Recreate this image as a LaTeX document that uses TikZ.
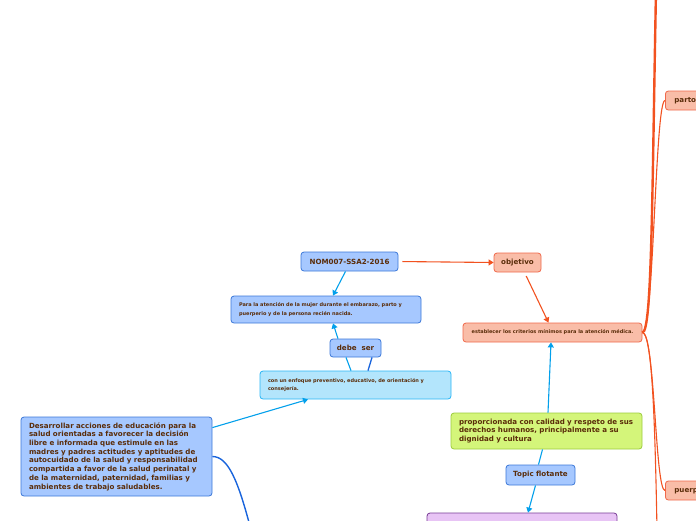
\documentclass[tikz,border=0pt]{standalone}
\usepackage{fontspec}
\setmainfont{DejaVu Sans}
\usetikzlibrary{arrows.meta, positioning, calc}

\definecolor{txtbrown}{RGB}{90,45,10}
\definecolor{bluefill}{RGB}{166,200,255}
\definecolor{blueline}{RGB}{59,120,216}
\definecolor{salmonfill}{RGB}{249,189,168}
\definecolor{salmonline}{RGB}{240,105,75}
\definecolor{orangeline}{RGB}{242,82,32}
\definecolor{cyanfill}{RGB}{179,229,252}
\definecolor{cyanline}{RGB}{41,182,246}
\definecolor{linkblue}{RGB}{3,160,235}
\definecolor{darkblue}{RGB}{25,100,220}
\definecolor{greenfill}{RGB}{212,245,122}
\definecolor{greenline}{RGB}{156,204,60}
\definecolor{purplefill}{RGB}{232,196,245}
\definecolor{purpleline}{RGB}{120,60,150}

\begin{document}
\begin{tikzpicture}[
  x=1pt, y=-1pt,
  box/.style={draw, rounded corners=3pt, line width=0.8pt, text=txtbrown, inner ysep=0pt,
    font=\bfseries\fontsize{7.1}{8.7}\selectfont},
  tiny/.style={font=\bfseries\fontsize{5}{8.6}\selectfont},
  bluebox/.style={box, fill=bluefill, draw=blueline},
  salmonbox/.style={box, fill=salmonfill, draw=salmonline},
  cyanbox/.style={box, fill=cyanfill, draw=cyanline},
  greenbox/.style={box, fill=greenfill, draw=greenline},
  purplebox/.style={box, fill=purplefill, draw=purpleline},
  para/.style={text width=175pt, inner xsep=8pt, align=left},
  link/.style={line width=1.1pt, draw=linkblue, -{Triangle[length=5pt,width=6pt]}},
  olink/.style={line width=1.1pt, draw=orangeline},
]
\useasboundingbox (0,0) rectangle (696,520);

\node[bluebox, minimum width=97pt, minimum height=19pt] (nom) at (349.5,261.5) {NOM007-SSA2-2016};
\node[salmonbox, minimum width=47pt, minimum height=19pt] (obj) at (517.5,262.5) {objetivo};
\node[salmonbox, tiny, minimum width=179pt, minimum height=19pt] (est) at (552.5,332.5)
  {establecer los criterios mínimos para la atención médica.};
\node[bluebox, para, tiny, text width=174pt, minimum height=27pt] (aten) at (326,309.5)
  {Para la atención de la mujer durante el embarazo, parto y\\puerperio y de la persona recién nacida.};
\node[bluebox, minimum width=51pt, minimum height=18pt] (debe) at (355.5,348) {debe\ \ ser};
\node[cyanbox, para, tiny, minimum height=28pt] (enfo) at (355.5,385)
  {con un enfoque preventivo, educativo, de orientación y\\consejería.};
\node[bluebox, para, minimum height=79pt] (desa) at (116.5,456.5)
  {Desarrollar acciones de educación para la\\salud orientadas a favorecer la decisión\\libre e informada que estimule en las\\madres y padres actitudes y aptitudes de\\autocuidado de la salud y responsabilidad\\compartida a favor de la salud perinatal y\\de la maternidad, paternidad, familias y\\ambientes de trabajo saludables.};
\node[greenbox, para, minimum height=36pt] (prop) at (546.5,431)
  {proporcionada con calidad y respeto de sus\\derechos humanos, principalmente a su\\dignidad y cultura};
\node[bluebox, minimum width=69pt, minimum height=20pt] (flot) at (540.5,475) {Topic flotante};
\node[purplebox, minimum width=190pt, minimum height=40pt] (lila) at (522,533) {};
\node[salmonbox, anchor=west, inner xsep=9pt, minimum height=19pt] (parto) at (665,100.5) {parto};
\node[salmonbox, anchor=west, inner xsep=9pt, minimum height=19pt] (puer) at (665,490.5) {puerperio};

\draw[olink, -{Triangle[length=5pt,width=6pt]}, shorten <=4pt] (nom.east) -- (obj.west);
\draw[olink, -{Triangle[length=5pt,width=6pt]}, shorten <=4pt] ([xshift=7pt]obj.south) -- ([xshift=-4pt]est.north);
\draw[olink, line width=2.4pt] (est.east) .. controls (652,332.5) and (652,200) .. (656,-10);
\draw[olink] (est.east) .. controls (654,332.5) and (655,100.5) .. (parto.west);
\draw[olink] (est.east) .. controls (655,332.5) and (655,490.5) .. (puer.west);
\draw[olink] (est.east) .. controls (652,332.5) and (655,420) .. (657,530);

\draw[link] ([xshift=-4pt]nom.south) -- ([xshift=7pt]aten.north);
\draw[link] ([xshift=-17.5pt]debe.north) -- ([xshift=7pt]aten.south);
\draw[line width=1.1pt, draw=linkblue] ([xshift=-9.5pt]debe.south) -- ([xshift=-4.5pt]enfo.north);
\draw[line width=1.3pt, draw=darkblue] ([xshift=16.5pt]debe.south) -- ([xshift=12.5pt]enfo.north);
\draw[link] ([yshift=-11pt]desa.north east) -- ([xshift=-47.5pt]enfo.south);
\draw[draw=darkblue, line width=1.4pt] (desa.east) .. controls (228,456.5) and (238,480) .. (251,530);
\draw[link] ([xshift=1.5pt]prop.north) -- ([xshift=-1.5pt]est.south);
\draw[line width=1.1pt, draw=linkblue] ([xshift=-4pt]prop.south) -- ([xshift=-2pt]flot.north);
\draw[link] ([xshift=-5pt]flot.south) -- ([xshift=6pt]lila.north);
\end{tikzpicture}
\end{document}
